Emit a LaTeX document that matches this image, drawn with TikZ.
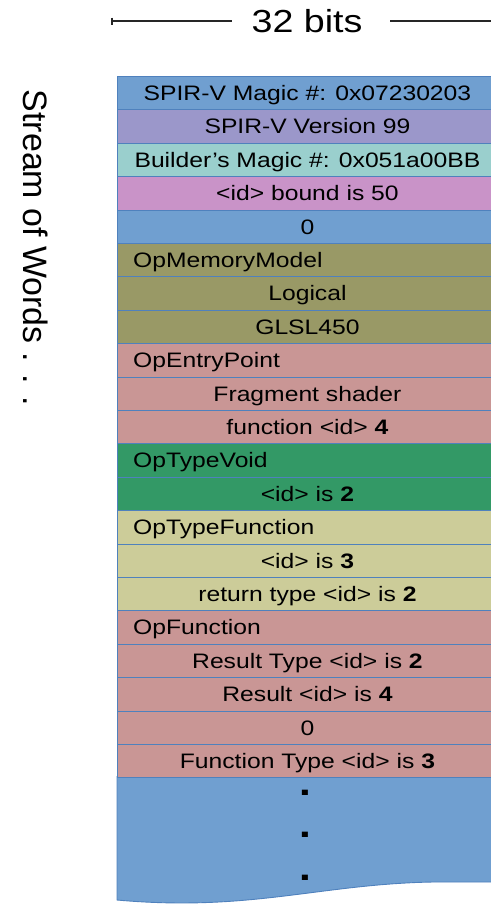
\documentclass[tikz,border=0pt]{standalone}
\usepackage{fontspec}
\setmainfont{Liberation Sans}[FakeStretch=1.18]
\newfontfamily\plainsans{Liberation Sans}
\definecolor{cblue}{RGB}{112,159,208}
\definecolor{cpurple}{RGB}{155,151,202}
\definecolor{cteal}{RGB}{154,207,205}
\definecolor{cpink}{RGB}{201,147,200}
\definecolor{colive}{RGB}{153,153,102}
\definecolor{crose}{RGB}{201,150,149}
\definecolor{cgreen}{RGB}{51,153,102}
\definecolor{ckhaki}{RGB}{204,204,153}
\definecolor{cborder}{RGB}{79,129,189}
\tikzset{
  rowbox/.style={draw=cborder, line width=0.9bp, minimum width=380bp, minimum height=33.4bp, inner sep=0pt, anchor=north west},
  rowtext/.style={font=\fontsize{21}{25}\selectfont, inner sep=0pt, anchor=base},
  dimline/.style={line width=1.3bp, draw=black!85},
  dotmark/.style={font=\fontsize{36}{40}\selectfont\bfseries, inner sep=0pt, anchor=base}
}
\begin{document}
\begin{tikzpicture}[x=1bp,y=-1bp]
\useasboundingbox (0,0) rectangle (491,905);
\clip (0,0) rectangle (491,905);
% dimension line
\node[font=\fontsize{32}{38}\selectfont, inner sep=0pt] (bits) at (307,21) {32 bits};
\coordinate (dl) at (112,21);
\coordinate (dr) at (502,21);
\draw[dimline] (dl) -- (bits.west -| 232,0);
\draw[dimline] (dl) ++(0,-3.5) -- ++(0,7);
\draw[dimline] (bits.east -| 390,0) -- (dr);
% side label
\node[font=\plainsans\fontsize{34}{40}\selectfont, rotate=-90, inner sep=0pt] (stream) at (36,248) {Stream of Words . . .};
% bottom blue region with wavy edge
\fill[cblue] (117,776) -- (497,776) -- (497,882) -- (433,882)
  .. controls (320,884) and (250,912) .. (117,900) -- cycle;
\draw[cborder, line width=0.9bp] (117,776) -- (117,900)
  .. controls (250,912) and (320,884) .. (433,882) -- (497,882);
% rows
\foreach \i/\c/\a/\t in {
 1/cblue/c/{SPIR-V Magic \#: 0x07230203},
 2/cpurple/c/{SPIR-V Version 99},
 3/cteal/c/{Builder's Magic \#: 0x051a00BB},
 4/cpink/c/{<id> bound is 50},
 5/cblue/c/{0},
 6/colive/l/{OpMemoryModel},
 7/colive/c/{Logical},
 8/colive/c/{GLSL450},
 9/crose/l/{OpEntryPoint},
 10/crose/c/{Fragment shader},
 11/crose/c/{function <id> \textbf{4}},
 12/cgreen/l/{OpTypeVoid},
 13/cgreen/c/{<id> is \textbf{2}},
 14/ckhaki/l/{OpTypeFunction},
 15/ckhaki/c/{<id> is \textbf{3}},
 16/ckhaki/c/{return type <id> is \textbf{2}},
 17/crose/l/{OpFunction},
 18/crose/c/{Result Type <id> is \textbf{2}},
 19/crose/c/{Result <id> is \textbf{4}},
 20/crose/c/{0},
 21/crose/c/{Function Type <id> is \textbf{3}}}
{
  \node[rowbox, fill=\c] (r\i) at (117,{76+(\i-1)*33.4}) {};
  \if\a c
    \node[rowtext] (t\i) at ([yshift=-7.3bp]r\i.center) {\t};
  \else
    \node[rowtext, anchor=base west] (t\i) at ([xshift=16bp,yshift=-7.3bp]r\i.west) {\t};
  \fi
}
% continuation dots
\node[dotmark] (d1) at (305,795) {.};
\node[dotmark] (d2) at (305,837) {.};
\node[dotmark] (d3) at (305,880) {.};
\end{tikzpicture}
\end{document}
